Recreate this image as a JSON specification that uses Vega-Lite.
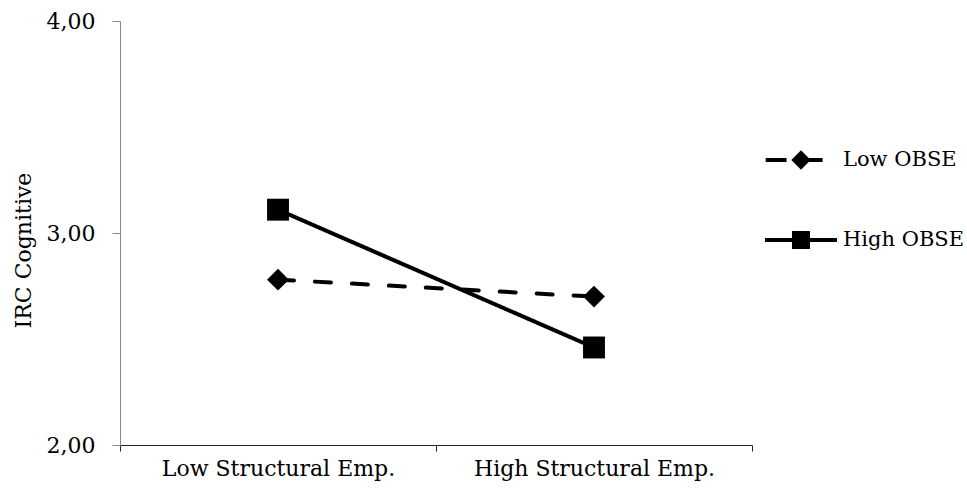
{
  "$schema": "https://vega.github.io/schema/vega-lite/v6.json",
  "width": 632,
  "height": 424,
  "autosize": "none",
  "padding": {"left": 120, "top": 21, "right": 215, "bottom": 50},
  "background": "white",
  "config": {
    "view": {"stroke": null},
    "font": "DejaVu Serif",
    "axis": {"labelFont": "DejaVu Serif", "titleFont": "DejaVu Serif", "labelFontSize": 22, "titleFontSize": 22, "labelColor": "black", "titleColor": "black", "titleFontWeight": "normal", "grid": false, "labelLimit": 0},
    "legend": {"labelFont": "DejaVu Serif", "labelFontSize": 21, "labelColor": "black", "labelLimit": 0}
  },
  "data": {
    "values": [
      {"emp": "Low Structural Emp.", "obse": "Low OBSE", "irc": 2.78},
      {"emp": "High Structural Emp.", "obse": "Low OBSE", "irc": 2.70},
      {"emp": "Low Structural Emp.", "obse": "High OBSE", "irc": 3.11},
      {"emp": "High Structural Emp.", "obse": "High OBSE", "irc": 2.46}
    ]
  },
  "encoding": {
    "x": {
      "field": "emp",
      "type": "nominal",
      "sort": ["Low Structural Emp.", "High Structural Emp."],
      "scale": {"paddingInner": 0, "paddingOuter": 0},
      "axis": {"title": null, "labelAngle": 0, "tickBand": "extent", "tickSize": 6, "tickColor": "#222", "domainColor": "#222", "labelPadding": 7}
    },
    "y": {
      "field": "irc",
      "type": "quantitative",
      "scale": {"domain": [2, 4], "nice": false, "zero": false},
      "axis": {"title": "IRC Cognitive", "values": [2, 3, 4], "labelExpr": "replace(format(datum.value, '.2f'), '.', ',')", "tickSize": 8, "tickColor": "#888", "domainColor": "#888", "labelPadding": 17, "titlePadding": 11, "titleY": 229}
    }
  },
  "resolve": {"scale": {"shape": "independent"}, "legend": {"shape": "independent"}},
  "layer": [
    {
      "mark": {"type": "line", "color": "black", "strokeWidth": 4, "strokeCap": "round"},
      "encoding": {
        "detail": {"field": "obse", "type": "nominal"},
        "strokeDash": {"field": "obse", "type": "nominal", "scale": {"domain": ["Low OBSE", "High OBSE"], "range": [[16, 21], [1, 0]]}, "legend": null}
      }
    },
    {
      "mark": {"type": "point", "filled": true, "color": "black", "opacity": 1, "size": 480},
      "encoding": {
        "shape": {
          "field": "obse",
          "type": "nominal",
          "scale": {"domain": ["Low OBSE", "High OBSE"], "range": ["diamond", "square"]},
          "legend": null
        }
      }
    },
    {
      "mark": {"type": "point", "filled": true, "color": "black", "opacity": 0, "size": 10},
      "encoding": {
        "shape": {
          "field": "obse",
          "type": "nominal",
          "scale": {"domain": ["Low OBSE", "High OBSE"], "range": ["M-0.98,-0.056L-0.4,-0.056L-0.4,0.056L-0.98,0.056Z M0,-0.27L0.27,0L0,0.27L-0.27,0Z M0.2,-0.056L0.6,-0.056L0.6,0.056L0.2,0.056Z", "M-1,-0.056L1,-0.056L1,0.056L-1,0.056Z M-0.25,-0.25L0.25,-0.25L0.25,0.25L-0.25,0.25Z"]},
          "legend": {
            "title": null,
            "orient": "none",
            "legendX": 645,
            "legendY": 103,
            "symbolSize": 5184,
            "symbolFillColor": "black",
            "symbolStrokeWidth": 0,
            "symbolOpacity": 1,
            "rowPadding": 34,
            "labelOffset": 6,
            "encode": {
              "symbols": {
                "update": {
                  "opacity": {"value": 1},
                  "fillOpacity": {"value": 1},
                  "fill": {"value": "black"},
                  "strokeWidth": {"value": 0}
                }
              }
            }
          }
        }
      }
    }
  ]
}
